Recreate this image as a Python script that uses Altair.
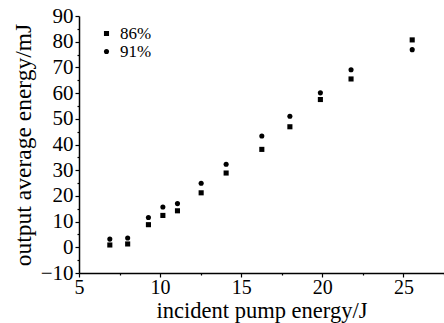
import altair as alt
import pandas as pd

pump = [6.9, 8.0, 9.28, 10.17, 11.07, 12.53, 14.07, 16.27, 18.0, 19.88, 21.77, 25.54]
out86 = [0.9, 1.3, 8.8, 12.4, 14.2, 21.2, 28.9, 38.1, 46.9, 57.5, 65.5, 80.7]
out91 = [3.2, 3.6, 11.6, 15.7, 17.0, 24.9, 32.3, 43.3, 51.0, 60.1, 69.1, 76.9]
series = ["86%", "91%"]
x_major = [5, 10, 15, 20, 25]
x_minor = [7.5, 12.5, 17.5, 22.5, 27.5]
y_major = [-10, 0, 10, 20, 30, 40, 50, 60, 70, 80, 90]
y_minor = [-5, 5, 15, 25, 35, 45, 55, 65, 75, 85]

rows = []
for x, a, b in zip(pump, out86, out91):
    rows.append({"pump": x, "energy": a, "series": series[0]})
    rows.append({"pump": x, "energy": b, "series": series[1]})
df = pd.DataFrame(rows)

FONT = "Liberation Serif"
xscale = alt.Scale(domain=[5, 27.5], nice=False, zero=False)
yscale = alt.Scale(domain=[-10, 90], nice=False, zero=False)

points = alt.Chart(df).mark_point(filled=True, opacity=1, size=26).encode(
    x=alt.X("pump:Q", scale=xscale,
            axis=alt.Axis(title="incident pump energy/J", values=x_major, orient="bottom",
                          grid=False, tickSize=4, labelPadding=0, titleBaseline="alphabetic",
                          titleY=44, labelFontSize=20, titleFontSize=22.5, labelFlush=False,
                          labelOverlap=False)),
    y=alt.Y("energy:Q", scale=yscale,
            axis=alt.Axis(title="output average energy/mJ", values=y_major, orient="left",
                          grid=False, tickSize=4, labelPadding=2, titlePadding=5,
                          labelFontSize=21, titleFontSize=23.5, labelOverlap=False,
                          labelFlush=False)),
    shape=alt.Shape("series:N",
                    scale=alt.Scale(domain=series, range=["square", "circle"]),
                    legend=alt.Legend(title=None, orient="none", legendX=19, legendY=11,
                                      labelFontSize=17, labelFont=FONT, labelColor="black",
                                      symbolSize=26, rowPadding=0, clipHeight=13,
                                      symbolFillColor="black", symbolStrokeColor="black",
                                      labelOffset=5)),
    color=alt.value("black"),
)

minor = alt.Chart(pd.DataFrame({"pump": [5.0], "energy": [-10.0]})).mark_point(opacity=0).encode(
    x=alt.X("pump:Q", scale=xscale,
            axis=alt.Axis(title=None, values=x_minor, orient="bottom", labels=False,
                          domain=False, grid=False, tickSize=2)),
    y=alt.Y("energy:Q", scale=yscale,
            axis=alt.Axis(title=None, values=y_minor, orient="left", labels=False,
                          domain=False, grid=False, tickSize=2)),
)

chart = alt.layer(points, minor).resolve_axis(x="independent", y="independent").properties(
    width=365, height=257,
    padding={"left": 79, "top": 16, "right": 0, "bottom": 50},
    autosize=alt.AutoSizeParams(type="none"),
).configure_view(stroke=None).configure_axis(
    domainColor="black", tickColor="black", labelColor="black", titleColor="black",
    labelFont=FONT, titleFont=FONT, titleFontWeight="normal", domainWidth=1.5,
    tickWidth=1.2,
)

chart.save("out.html", embed_options={"renderer": "svg", "actions": False})
